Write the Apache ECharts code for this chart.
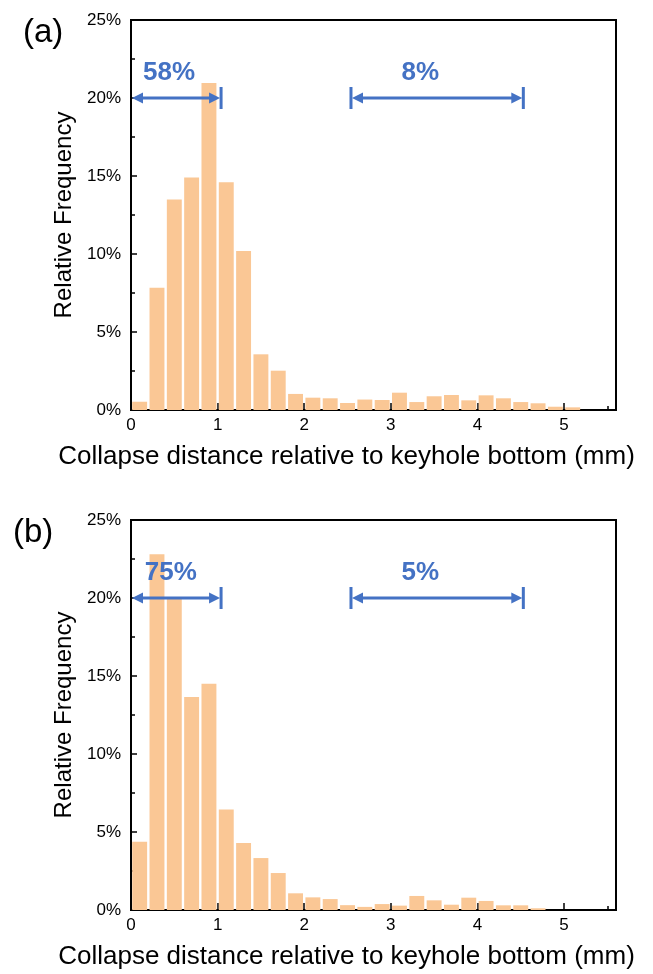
<!DOCTYPE html>
<html><head><meta charset="utf-8">
<script src="https://cdn.jsdelivr.net/npm/echarts@6/dist/echarts.min.js"></script>
<style>html,body{margin:0;padding:0;background:#fff}#c{width:653px;height:974px}</style>
</head><body><div id="c"></div>
<script>
// ---- data ----
const binWidth = 0.2;
const binCenters = [0.1,0.3,0.5,0.7,0.9,1.1,1.3,1.5,1.7,1.9,2.1,2.3,2.5,2.7,2.9,3.1,3.3,3.5,3.7,3.9,4.1,4.3,4.5,4.7,4.9,5.1];
const freqA = [0.53,7.84,13.5,14.9,20.96,14.6,10.2,3.57,2.52,1.03,0.79,0.75,0.45,0.67,0.64,1.11,0.51,0.88,0.96,0.62,0.94,0.75,0.51,0.43,0.21,0.17];
const freqB = [4.38,22.8,20.0,13.65,14.5,6.45,4.29,3.33,2.37,1.07,0.81,0.7,0.31,0.2,0.38,0.28,0.9,0.62,0.34,0.79,0.58,0.3,0.3,0.11];
const xTickLabels = ['0','1','2','3','4','5'];
const yTickLabels = ['0%','5%','10%','15%','20%','25%'];
// annotations: [xStart, xEnd, yLevel]
const arrowsA = [[0,1.04,20],[2.54,4.53,20]];
const arrowsB = [[0,1.04,20],[2.54,4.53,20]];
// labels: [x, y, text]
const labelsA = [[0.44,21.6,'58%'],[3.34,21.6,'8%']];
const labelsB = [[0.46,21.6,'75%'],[3.34,21.6,'5%']];
const panelNames = ['(a)','(b)'];
const xTitle = 'Collapse distance relative to keyhole bottom (mm)';
const yTitle = 'Relative Frequency';

// ---- chart ----
const FONT = "'Liberation Sans', Arial, sans-serif";
const BAR = '#FAC795';
const BLUE = '#4472C4';
const chart = echarts.init(document.getElementById('c'), null, {renderer:'canvas'});

function barItem(params, api){
  const c = api.value(0), v = api.value(1);
  const p0 = api.coord([c - binWidth/2, v]);
  const p1 = api.coord([c + binWidth/2, 0]);
  return {type:'rect', shape:{x:p0[0]+1.2, y:p0[1], width:p1[0]-p0[0]-2.4, height:p1[1]-p0[1]},
          style:{fill:BAR}};
}
function arrowItem(params, api){
  const x1 = api.value(0), x2 = api.value(1), y = api.value(2);
  const a = api.coord([x1, y]), b = api.coord([x2, y]);
  const yy = a[1], L = 11, H = 5.5;
  const ch = [
    {type:'line', shape:{x1:a[0]+5, y1:yy, x2:b[0]-5, y2:yy}, style:{stroke:BLUE, lineWidth:3}},
    {type:'polygon', shape:{points:[[a[0]+1,yy],[a[0]+1+L,yy-H],[a[0]+1+L,yy+H]]}, style:{fill:BLUE}},
    {type:'polygon', shape:{points:[[b[0]-1,yy],[b[0]-1-L,yy-H],[b[0]-1-L,yy+H]]}, style:{fill:BLUE}},
    {type:'line', shape:{x1:b[0], y1:yy-11, x2:b[0], y2:yy+11}, style:{stroke:BLUE, lineWidth:3}}
  ];
  if (x1 > 0) ch.push({type:'line', shape:{x1:a[0], y1:yy-11, x2:a[0], y2:yy+11}, style:{stroke:BLUE, lineWidth:3}});
  return {type:'group', children:ch};
}

function xAxes(gi){
  return [
    {gridIndex:gi, type:'value', min:0, max:5.6, interval:1, position:'bottom',
     axisLine:{show:true, onZero:false, lineStyle:{color:'#000', width:2}},
     axisTick:{show:true, inside:true, length:7, lineStyle:{color:'#000', width:1.5}},
     axisLabel:{fontSize:17, color:'#000', fontFamily:FONT, margin:7,
       formatter:(v)=>{const i = xTickLabels.indexOf(String(v)); return i>=0 ? xTickLabels[i] : '';}},
     splitLine:{show:false},
     name:xTitle, nameLocation:'middle', nameGap:34,
     nameTextStyle:{fontSize:26, color:'#000', fontFamily:FONT, padding:[0,54,0,0]}},
    {gridIndex:gi, type:'value', min:0, max:5.6, interval:0.5, position:'bottom',
     axisLine:{show:false}, axisLabel:{show:false}, splitLine:{show:false},
     axisTick:{show:true, inside:true, length:4, lineStyle:{color:'#000', width:1.5}}}
  ];
}
function yAxis(gi){
  return {gridIndex:gi, type:'value', min:0, max:25, interval:5,
    axisLine:{show:true, lineStyle:{color:'#000', width:2}},
    axisTick:{show:true, inside:true, length:6, lineStyle:{color:'#000', width:1.5}},
    minorTick:{show:true, splitNumber:2, length:4, lineStyle:{color:'#000', width:1.5}},
    axisLabel:{fontSize:17, color:'#000', fontFamily:FONT, margin:10,
      formatter:(v)=>yTickLabels[Math.round(v/5)]},
    splitLine:{show:false},
    name:yTitle, nameLocation:'middle', nameGap:52,
    nameTextStyle:{fontSize:24, color:'#000', fontFamily:FONT}};
}

const seriesBars = (data, gi) => ({type:'custom', xAxisIndex:gi*2, yAxisIndex:gi, renderItem:barItem,
  data: data.map((v,i)=>[binCenters[i], v]), z:2});
const seriesArrows = (arr, gi) => ({type:'custom', xAxisIndex:gi*2, yAxisIndex:gi, renderItem:arrowItem,
  data: arr, clip:false, z:5});
const seriesLabels = (lab, gi) => ({type:'custom', xAxisIndex:gi*2, yAxisIndex:gi, clip:false, z:6,
    data: lab.map(l=>[l[0], l[1]]),
    renderItem:(params, api)=>{
      const p = api.coord([api.value(0), api.value(1)]);
      return {type:'text', x:p[0], y:p[1], style:{text:lab[params.dataIndex][2], fill:BLUE,
        font:"bold 26px "+FONT, align:'center', verticalAlign:'middle'}};
    }});

chart.setOption({
  animation:false,
  backgroundColor:'#fff',
  grid:[
    {left:131, top:20, width:485, height:390, show:true, borderColor:'#000', borderWidth:2, backgroundColor:'transparent'},
    {left:131, top:520, width:485, height:390, show:true, borderColor:'#000', borderWidth:2, backgroundColor:'transparent'}
  ],
  xAxis:[...xAxes(0), ...xAxes(1)],
  yAxis:[yAxis(0), yAxis(1)],
  series:[
    seriesBars(freqA,0), seriesArrows(arrowsA,0), seriesLabels(labelsA,0),
    seriesBars(freqB,1), seriesArrows(arrowsB,1), seriesLabels(labelsB,1)
  ],
  graphic:[
    {type:'text', left:23, top:16, style:{text:panelNames[0], font:"33px "+FONT, fill:'#000'}},
    {type:'text', left:13, top:516, style:{text:panelNames[1], font:"33px "+FONT, fill:'#000'}}
  ]
});
</script></body></html>
